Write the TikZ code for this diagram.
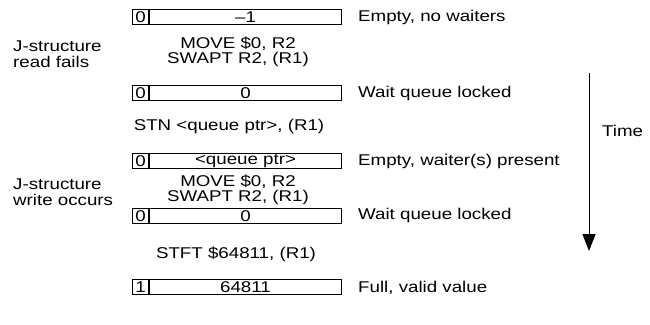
\documentclass[tikz,border=0pt]{standalone}
\usepackage{fontspec}
\setmainfont[FakeStretch=1.2]{Liberation Sans}
\usetikzlibrary{arrows.meta}
\begin{document}
\begin{tikzpicture}[x=1pt,y=-1pt,
  every node/.style={font=\fontsize{15.6}{15.5}\selectfont, inner sep=0pt},
  tagcell/.style={draw, line width=1pt, minimum width=16pt, minimum height=14.5pt, anchor=west},
  valcell/.style={draw, line width=1pt, minimum width=192pt, minimum height=14.5pt, anchor=west},
  lbl/.style={anchor=west},
  instr/.style={align=center},
  side/.style={anchor=west, align=left}]
\useasboundingbox (0,0) rectangle (650,324);
% box 1
\node[tagcell] (t1) at (132,17) {0};
\node[valcell] (v1) at (t1.east) {--1};
\node[lbl] (l1) at (358,17) {Empty, no waiters};
\node[side] (s1) at (13,54) {J-structure\\read fails};
\node[instr] (i1) at (238,52) {MOVE \$0, R2\\SWAPT R2, (R1)};
% box 2
\node[tagcell] (t2) at (132,93) {0};
\node[valcell] (v2) at (t2.east) {0};
\node[lbl] (l2) at (358,93) {Wait queue locked};
\node (i2) at (229,126) {STN <queue ptr>, (R1)};
% box 3
\node[tagcell] (t3) at (132,161) {0};
\node[valcell] (v3) at (t3.east) {<queue ptr>};
\node[lbl] (l3) at (358,161) {Empty, waiter(s) present};
\node[side] (s2) at (13,192) {J-structure\\write occurs};
\node[instr] (i3) at (238,190) {MOVE \$0, R2\\SWAPT R2, (R1)};
% box 4
\node[tagcell] (t4) at (132,216) {0};
\node[valcell] (v4) at (t4.east) {0};
\node[lbl] (l4) at (358,215) {Wait queue locked};
\node (i4) at (236,254) {STFT \$64811, (R1)};
% box 5
\node[tagcell] (t5) at (132,287) {1};
\node[valcell] (v5) at (t5.east) {64811};
\node[lbl] (l5) at (358,288) {Full, valid value};
% time arrow
\coordinate (ta) at (589,73);
\coordinate (tb) at (589,251);
\draw[line width=1pt, -{Triangle[width=13pt,length=17pt]}] (ta) -- (tb);
\node[lbl] (tm) at (602,131) {Time};
\end{tikzpicture}
\end{document}
